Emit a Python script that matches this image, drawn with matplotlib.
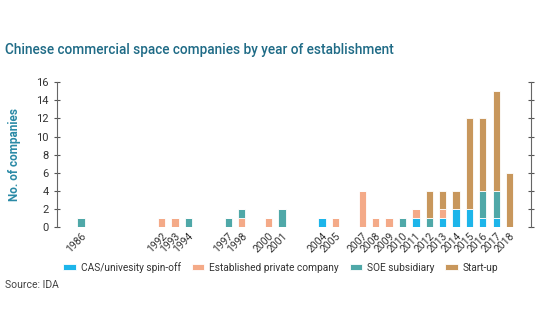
import matplotlib
matplotlib.use("Agg")
import matplotlib.pyplot as plt
import numpy as np

plt.rcParams['font.family'] = ['Roboto', 'DejaVu Sans']

years = [1986, 1992, 1993, 1994, 1997, 1998, 2000, 2001, 2004, 2005, 2007, 2008,
         2009, 2010, 2011, 2012, 2013, 2014, 2015, 2016, 2017, 2018]
cas     = [0, 0, 0, 0, 0, 0, 0, 0, 1, 0, 0, 0, 0, 0, 1, 0, 1, 2, 2, 1, 1, 0]
private = [0, 1, 1, 0, 0, 1, 1, 0, 0, 1, 4, 1, 1, 0, 1, 0, 1, 0, 0, 0, 0, 0]
soe     = [1, 0, 0, 1, 1, 1, 0, 2, 0, 0, 0, 0, 0, 1, 0, 1, 0, 0, 0, 3, 3, 0]
startup = [0, 0, 0, 0, 0, 0, 0, 0, 0, 0, 0, 0, 0, 0, 0, 3, 2, 2, 10, 8, 11, 6]

series = [("CAS/univesity spin-off", cas, "#1db5ea"),
          ("Established private company", private, "#f4aa88"),
          ("SOE subsidiary", soe, "#4fa8a8"),
          ("Start-up", startup, "#c8975c")]

fig = plt.figure(figsize=(5.4, 3.34), dpi=100)
ax = fig.add_axes([0.1056, 0.32, 0.877, 0.434])

bottom = np.zeros(len(years))
for label, vals, color in series:
    v = np.array(vals, dtype=float)
    ax.bar(years, v, bottom=bottom, width=0.55, color=color, label=label,
           edgecolor="white", linewidth=0.6)
    bottom += v

ax.set_xlim(1984.2, 2019.57)
ax.set_ylim(0, 16)
ax.set_yticks(range(0, 17, 2))
ax.set_xticks(years)
ax.set_xticklabels([str(y) for y in years], rotation=45, ha="right",
                   rotation_mode="anchor", fontsize=7.5, color="#333333")
ax.tick_params(axis="x", length=0, pad=3)
ax.tick_params(axis="y", direction="inout", length=5, width=0.8, colors="#555555",
               labelsize=8, labelcolor="#333333", right=True, labelright=False)
for s in ["top", "bottom"]:
    ax.spines[s].set_visible(False)
for s in ["left", "right"]:
    ax.spines[s].set_color("#666666")
    ax.spines[s].set_linewidth(0.8)

ax.set_ylabel("No. of companies", color="#2a8aa6", fontsize=8.5, fontweight="bold",
              labelpad=11)

fig.text(0.01, 0.85, "Chinese commercial space companies by year of establishment",
         fontsize=9.8, fontweight="medium", color="#1f6b86", ha="left", va="center")

fig.legend(loc="center", bbox_to_anchor=(0.52, 0.2), ncol=4, frameon=False,
           fontsize=7.3, handlelength=1.25, handleheight=0.6, columnspacing=1.1,
           handletextpad=0.45, labelcolor="#333333")

fig.text(0.01, 0.148, "Source: IDA", fontsize=7.5, color="#444444", ha="left", va="center")

fig.savefig("out.png", dpi=100)
